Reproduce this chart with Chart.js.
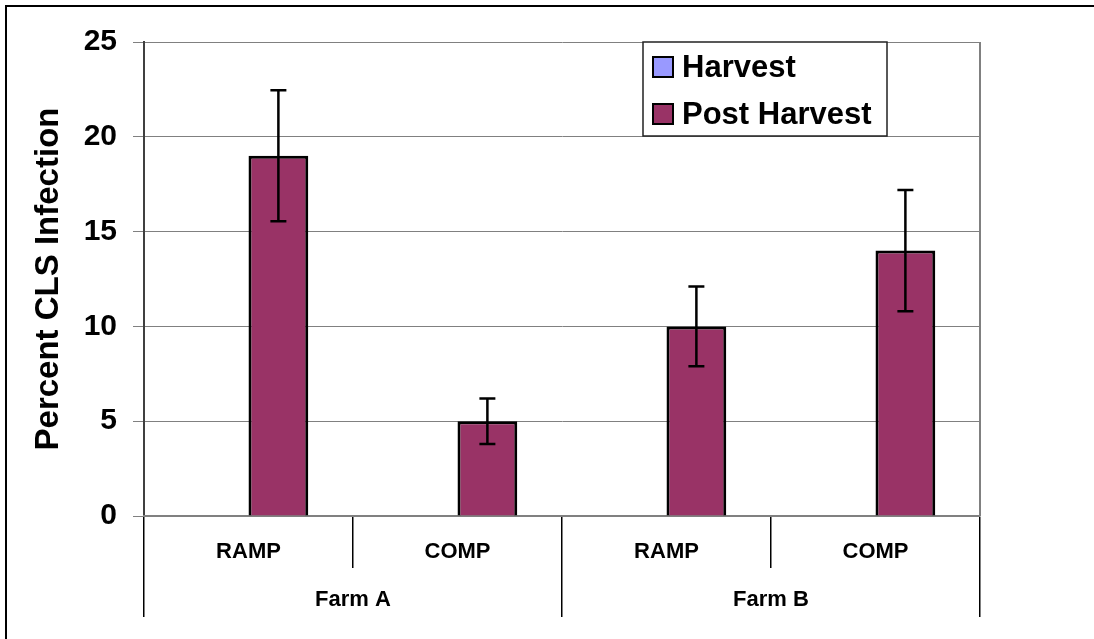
<!DOCTYPE html>
<html>
<head>
<meta charset="utf-8">
<script src="https://cdn.jsdelivr.net/npm/chart.js@4/dist/chart.umd.min.js"></script>
<style>
  body { margin: 0; background: #fff; overflow: hidden; }
</style>
</head>
<body>
<canvas id="cls" width="1094" height="639"></canvas>
<script>
const categories = ['RAMP', 'COMP', 'RAMP', 'COMP'];
const farms = ['Farm A', 'Farm B'];
const harvest = [0, 0, 0, 0];
const postHarvest = [19, 5, 10, 14];
const postHarvestErr = [3.45, 1.2, 2.1, 3.2];
const yTicks = [0, 5, 10, 15, 20, 25];

const FONT = '"Liberation Sans", Arial, sans-serif';

// black frame line along top and left of the picture
const frame = {
  id: 'frame',
  beforeDraw(chart) {
    const c = chart.ctx;
    c.save();
    c.strokeStyle = '#000';
    c.lineWidth = 2;
    c.beginPath();
    c.moveTo(6, 639); c.lineTo(6, 6); c.lineTo(1094, 6);
    c.stroke();
    c.restore();
  }
};

// error bars on the post harvest bars
const errorBars = {
  id: 'errorBars',
  afterDatasetsDraw(chart) {
    const meta = chart.getDatasetMeta(1);
    const y = chart.scales.y;
    const c = chart.ctx;
    c.save();
    c.strokeStyle = '#000';
    c.lineWidth = 2.5;
    meta.data.forEach((bar, i) => {
      const v = postHarvest[i], e = postHarvestErr[i];
      const top = y.getPixelForValue(v + e);
      const bot = y.getPixelForValue(v - e);
      c.beginPath();
      c.moveTo(bar.x, top); c.lineTo(bar.x, bot);
      c.moveTo(bar.x - 8, top); c.lineTo(bar.x + 8, top);
      c.moveTo(bar.x - 8, bot); c.lineTo(bar.x + 8, bot);
      c.stroke();
    });
    c.restore();
  }
};

// right edge of plot area + legend box in the top right
const extras = {
  id: 'extras',
  afterDraw(chart) {
    const a = chart.chartArea;
    const c = chart.ctx;
    c.save();
    c.strokeStyle = '#808080';
    c.lineWidth = 2;
    c.beginPath();
    c.moveTo(a.right, a.top); c.lineTo(a.right, a.bottom);
    c.stroke();

    const lx = 643, ly = 42, lw = 244, lh = 94;
    c.fillStyle = '#fff';
    c.fillRect(lx, ly, lw, lh);
    c.strokeStyle = '#222';
    c.lineWidth = 1.5;
    c.strokeRect(lx, ly, lw, lh);
    c.font = 'bold 31px ' + FONT;
    c.textBaseline = 'middle';
    chart.data.datasets.forEach((ds, i) => {
      const cy = 67 + i * 47;
      c.fillStyle = ds.backgroundColor;
      c.fillRect(653, cy - 10, 20, 20);
      c.strokeStyle = '#000';
      c.lineWidth = 2;
      c.strokeRect(653, cy - 10, 20, 20);
      c.fillStyle = '#000';
      c.fillText(ds.label, 682, cy + 1);
    });
    c.restore();
  }
};

new Chart(document.getElementById('cls').getContext('2d'), {
  type: 'bar',
  data: {
    labels: categories,
    datasets: [
      { label: 'Harvest', data: harvest, backgroundColor: '#9999FF',
        borderColor: '#000', borderWidth: 0 },
      { label: 'Post Harvest', data: postHarvest, backgroundColor: '#993366',
        borderColor: '#000', borderWidth: 3 }
    ]
  },
  options: {
    responsive: false,
    animation: false,
    layout: { padding: { left: 0, right: 114, top: 42, bottom: 22 } },
    datasets: { bar: { categoryPercentage: 0.572, barPercentage: 1.0 } },
    plugins: { legend: { display: false }, tooltip: { enabled: false } },
    scales: {
      y: {
        min: 0, max: 25,
        afterBuildTicks: s => { s.ticks = yTicks.map(v => ({ value: v })); },
        afterFit: s => { s.width = 144; },
        ticks: { color: '#000', padding: 16, font: { family: FONT, size: 30, weight: 'bold' } },
        grid: { color: '#808080', lineWidth: 1, tickLength: 11 },
        border: { color: '#404040', width: 2 },
        title: { display: true, text: 'Percent CLS Infection', color: '#000',
                 padding: { top: 29, bottom: 0 },
                 font: { family: FONT, size: 33, weight: 'bold' } }
      },
      x: {
        weight: 0,
        afterFit: s => { s.height = 52; },
        ticks: { color: '#000', autoSkip: false, maxRotation: 0, padding: -29,
                 font: { family: FONT, size: 22, weight: 'bold' } },
        grid: { offset: true, drawOnChartArea: false, color: '#000', lineWidth: 1.5, tickLength: 52 },
        border: { color: '#808080', width: 2 }
      },
      x2: {
        type: 'category',
        position: 'bottom',
        weight: 1,
        labels: farms,
        offset: true,
        afterFit: s => { s.height = 49; },
        ticks: { color: '#000', autoSkip: false, maxRotation: 0, padding: -30,
                 font: { family: FONT, size: 22, weight: 'bold' } },
        grid: { offset: true, drawOnChartArea: false, color: '#000', lineWidth: 1.5, tickLength: 49 },
        border: { display: false }
      }
    }
  },
  plugins: [frame, errorBars, extras]
});
</script>
</body>
</html>
